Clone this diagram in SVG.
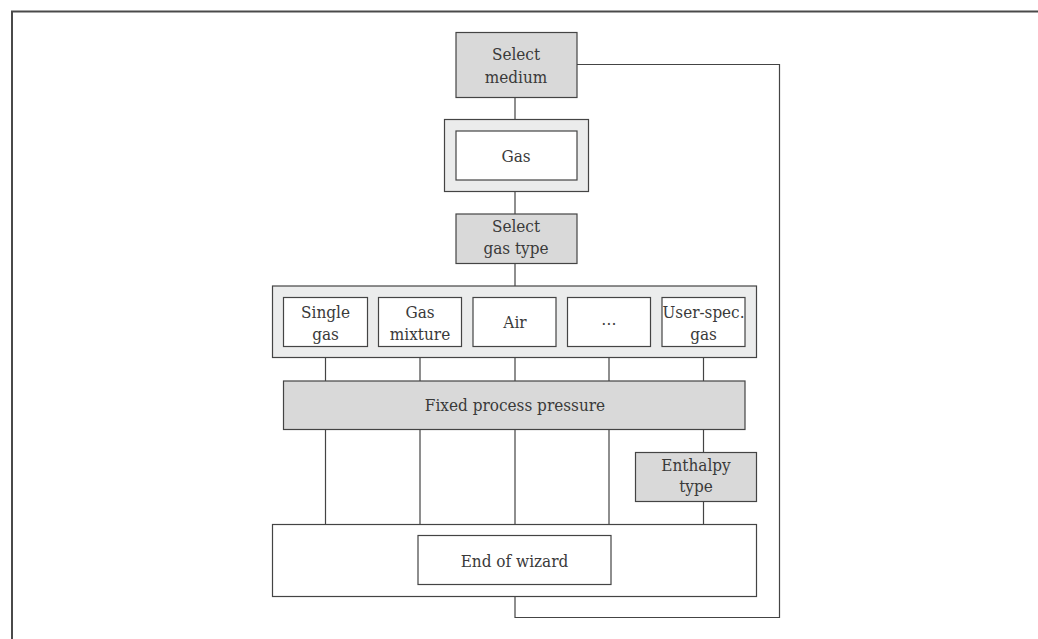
<svg xmlns="http://www.w3.org/2000/svg" width="1038" height="639" viewBox="0 0 1038 639">
<style>
.box{stroke:#444;stroke-width:1.2}
.g{fill:#d9d9d9}
.l{fill:#ebecec}
.w{fill:#fff}
.c{fill:none;stroke:#444;stroke-width:1.2}
text{font-family:"DejaVu Serif","Liberation Serif",serif;font-stretch:condensed;font-size:17px;fill:#3a3a3a;text-anchor:middle}
</style>
<rect width="1038" height="639" fill="#fff"/>
<path d="M12 639V11.5H1038" fill="none" stroke="#4a4a4a" stroke-width="2"/>
<g id="connectors">
<path class="c" d="M577 64.5H779.5V617.5H515V596.5"/>
<path class="c" d="M515 97.5V119.5M515 191.5V214M515 263.5V286"/>
<path class="c" d="M325.5 357.5V381M420 357.5V381M515 357.5V381M609 357.5V381M703.5 357.5V381"/>
<path class="c" d="M325.5 429.5V524.5M420 429.5V524.5M515 429.5V524.5M609 429.5V524.5M703.5 429.5V452.5M703.5 501.5V524.5"/>
</g>
<g id="select-medium"><rect class="box g" x="456" y="32.5" width="121" height="65"/><text x="516" y="60">Select</text><text x="516" y="83">medium</text></g>
<g id="gas"><rect class="box l" x="444.5" y="119.5" width="144" height="72"/><rect class="box w" x="456" y="131" width="121" height="49"/><text x="516" y="162">Gas</text></g>
<g id="select-gas-type"><rect class="box g" x="456" y="214" width="121" height="49.5"/><text x="516" y="232">Select</text><text x="516" y="254">gas type</text></g>
<g id="gas-types"><rect class="box l" x="272.5" y="286" width="484" height="71.5"/>
<g id="single-gas"><rect class="box w" x="283.5" y="297.5" width="84" height="49"/><text x="325.5" y="318">Single</text><text x="325.5" y="340">gas</text></g>
<g id="gas-mixture"><rect class="box w" x="378.5" y="297.5" width="83" height="49"/><text x="420" y="318">Gas</text><text x="420" y="340">mixture</text></g>
<g id="air"><rect class="box w" x="473" y="297.5" width="83" height="49"/><text x="515" y="328">Air</text></g>
<g id="more"><rect class="box w" x="567.5" y="297.5" width="83" height="49"/><text x="609" y="325">…</text></g>
<g id="user-spec-gas"><rect class="box w" x="662" y="297.5" width="83" height="49"/><text x="703.5" y="318" textLength="82" lengthAdjust="spacingAndGlyphs">User-spec.</text><text x="703.5" y="340">gas</text></g>
</g>
<g id="fixed-process-pressure"><rect class="box g" x="283.5" y="381" width="461.5" height="48.5"/><text x="515" y="411">Fixed process pressure</text></g>
<g id="enthalpy-type"><rect class="box g" x="635.5" y="452.5" width="121" height="49"/><text x="696" y="471">Enthalpy</text><text x="696" y="492">type</text></g>
<g id="end"><rect class="box w" x="272.5" y="524.5" width="484" height="72"/><rect class="box w" x="418" y="535.5" width="193" height="49"/><text x="514.5" y="567">End of wizard</text></g>
</svg>
